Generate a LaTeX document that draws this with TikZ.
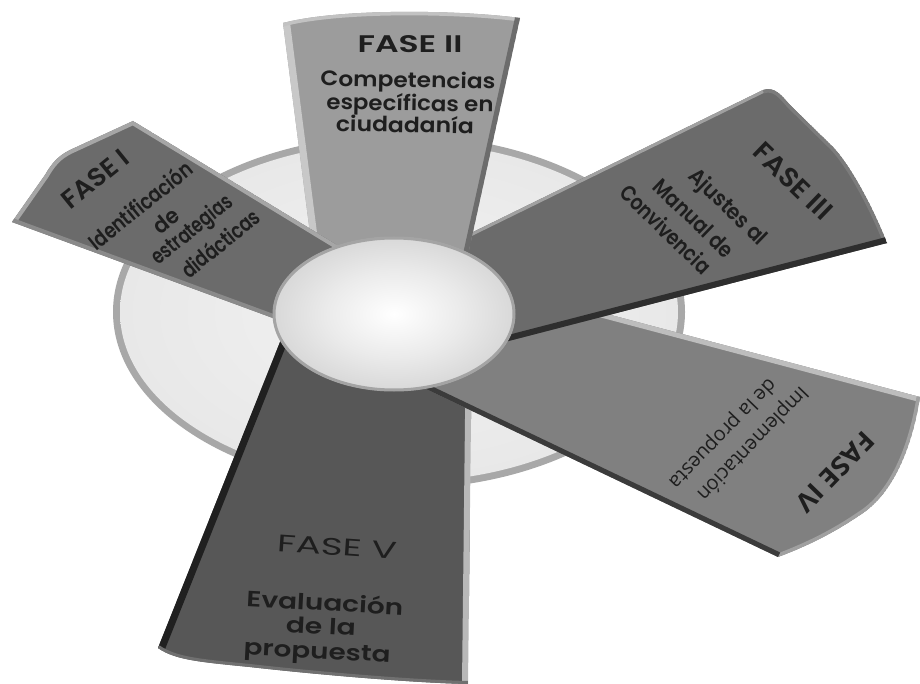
\documentclass[tikz,border=0pt]{standalone}
\usepackage{fontspec}
\setmainfont{Poppins}[BoldFont={Poppins SemiBold}]
\newfontfamily\ivfont{Open Sans}
\usepackage{graphicx}
\definecolor{txtc}{HTML}{1E1E1E}
\definecolor{discrim}{HTML}{A8A8A8}
\definecolor{cI}{HTML}{6B6B6B}
\definecolor{cIrim}{HTML}{A6A6A6}
\definecolor{cIbot}{HTML}{8A8A8A}
\definecolor{cII}{HTML}{9C9C9C}
\definecolor{cIIleft}{HTML}{C8C8C8}
\definecolor{cIItop}{HTML}{C2C2C2}
\definecolor{cIIright}{HTML}{6C6C6C}
\definecolor{cIII}{HTML}{6B6B6B}
\definecolor{cIIItop}{HTML}{A0A0A0}
\definecolor{cIIIout}{HTML}{7C7C7C}
\definecolor{cIIIbot}{HTML}{2E2E2E}
\definecolor{cIV}{HTML}{808080}
\definecolor{cIVtop}{HTML}{BDBDBD}
\definecolor{cIVout}{HTML}{A0A0A0}
\definecolor{cIVbot}{HTML}{3B3B3B}
\definecolor{cV}{HTML}{575757}
\definecolor{cVleft}{HTML}{202020}
\definecolor{cVright}{HTML}{B8B8B8}
\definecolor{cVbot}{HTML}{707070}
\definecolor{sphrim}{HTML}{A4A4A4}
\pgfdeclareradialshading{sph}{\pgfpoint{0bp}{0bp}}{color(0bp)=(white); color(14bp)=(white!92!black); color(50bp)=(white!68!black)}
\pgfdeclareradialshading{discface}{\pgfpoint{0bp}{0bp}}{color(0bp)=(white!95!black); color(50bp)=(white!87!black)}
% scale text horizontally to a width, at a given font size
\newcommand{\fitx}[3]{\resizebox{#1pt}{\height}{\fontsize{#2pt}{#2pt}\selectfont #3}}
\tikzset{
  lbl/.style={inner sep=0pt, text=txtc},
}
\def\pV{(290,317) -- (158,648) .. controls (175,660) and (200,662) .. (250,667) .. controls (330,676) and (420,683) .. (468,684) -- (472,330) -- cycle}
\def\pIV{(430,267) -- (920,397) .. controls (915,430) and (900,490) .. (860,515) .. controls (835,532) and (810,545) .. (778,557) -- (380,367) -- cycle}
\def\pIII{(420,258) -- (763,90) .. controls (775,86) and (782,96) .. (790,105) -- (833,147) .. controls (850,165) and (872,205) .. (887,243) -- (420,364) -- cycle}
\def\pII{(316,280) -- (283,23) .. controls (340,8) and (460,10) .. (520,18) -- (458,300) -- cycle}
\def\pI{(360,259) -- (133,121) -- (70,150) .. controls (58,156) and (52,163) .. (45,175) -- (12,222) -- (330,339) -- cycle}
\begin{document}
\begin{tikzpicture}[x=1pt,y=-1pt]
\useasboundingbox (0,0) rectangle (920,684);
\fill[white] (0,0) rectangle (920,684);
% disc
\fill[discrim] (399,312) ellipse [x radius=286, y radius=177];
\shade[shading=discface] (399,312) ellipse [x radius=279, y radius=170];
% blade V
\begin{scope}
  \clip \pV;
  \fill[cV] \pV;
  \draw[line width=14pt, cVleft] (290,317) -- (158,648);
  \draw[line width=12pt, cVright] (468,684) -- (472,330);
  \draw[line width=6pt, cVbot] (158,648) .. controls (175,660) and (200,662) .. (250,667) .. controls (330,676) and (420,683) .. (468,684);
\end{scope}
% blade IV
\begin{scope}
  \clip \pIV;
  \fill[cIV] \pIV;
  \draw[line width=10pt, cIVtop] (430,267) -- (920,397);
  \draw[line width=7pt, cIVout] (920,397) .. controls (915,430) and (900,490) .. (860,515) .. controls (835,532) and (810,545) .. (778,557);
  \draw[line width=10pt, cIVbot] (778,557) -- (380,367);
\end{scope}
% blade III
\begin{scope}
  \clip \pIII;
  \fill[cIII] \pIII;
  \draw[line width=6pt, cIIItop] (420,258) -- (763,90);
  \draw[line width=7pt, cIIIout] (763,90) .. controls (775,86) and (782,96) .. (790,105) -- (833,147) .. controls (850,165) and (872,205) .. (887,243);
  \draw[line width=12pt, cIIIbot] (887,243) -- (420,364);
\end{scope}
% blade II
\begin{scope}
  \clip \pII;
  \fill[cII] \pII;
  \draw[line width=14pt, cIIleft] (316,280) -- (283,23);
  \draw[line width=7pt, cIItop] (283,23) .. controls (340,8) and (460,10) .. (520,18);
  \draw[line width=10pt, cIIright] (520,18) -- (458,300);
\end{scope}
% blade I
\begin{scope}
  \clip \pI;
  \fill[cI] \pI;
  \draw[line width=8pt, cIrim] (360,259) -- (133,121) -- (70,150) .. controls (58,156) and (52,163) .. (45,175) -- (12,222);
  \draw[line width=8pt, cIbot] (12,222) -- (330,339);
\end{scope}
% hub
\shade[shading=sph] (394,314) ellipse [x radius=121, y radius=77];
\draw[line width=3pt, sphrim] (394,314) ellipse [x radius=120, y radius=76];
% texts I
\node[lbl, rotate=39] (f1) at (95,179) {\fitx{78}{26}{\bfseries FASE I}};
\node[lbl, rotate=39] (t1a) at (140,205) {\fitx{126}{22}{\bfseries Identificación}};
\node[lbl, rotate=39] (t1b) at (166,221) {\fitx{27}{22}{\bfseries de}};
\node[lbl, rotate=39] (t1c) at (193,231) {\fitx{97}{22}{\bfseries estrategias}};
\node[lbl, rotate=39] (t1d) at (220,243) {\fitx{94}{22}{\bfseries didácticas}};
% texts II
\node[lbl] (f2) at (410,44) {\fitx{105}{24}{\bfseries FASE II}};
\node[lbl, rotate=-1] (t2a) at (408,82) {\fitx{175}{21}{\bfseries Competencias}};
\node[lbl, rotate=-1] (t2b) at (410,105) {\fitx{167}{21}{\bfseries específicas en}};
\node[lbl, rotate=-1] (t2c) at (405,124) {\fitx{138}{21}{\bfseries ciudadanía}};
% texts III
\node[lbl, rotate=-44] (f3) at (793,181) {\fitx{98}{27}{\bfseries FASE III}};
\node[lbl, rotate=-44] (t3a) at (727,208) {\fitx{100}{22}{\bfseries Ajustes al}};
\node[lbl, rotate=-44] (t3b) at (694,218) {\fitx{102}{22}{\bfseries Manual de}};
\node[lbl, rotate=-44] (t3c) at (666,229) {\fitx{117}{22}{\bfseries Convivencia}};
% texts IV
\node[lbl, rotate=-134] (f4) at (835,472) {\fitx{100}{26}{\ivfont\bfseries FASE IV}};
\node[lbl, rotate=-134] (t4a) at (752,443) {\fitx{150}{20}{\ivfont Implementación}};
\node[lbl, rotate=-134] (t4b) at (722,433) {\fitx{145}{20}{\ivfont de la propuesta}};
% texts V
\node[lbl, rotate=-4] (f5) at (337,547) {\fitx{120}{24}{FASE V}};
\node[lbl, rotate=-3] (t5a) at (325,602) {\fitx{157}{22}{\bfseries Evaluación}};
\node[lbl, rotate=-3] (t5b) at (321,626) {\fitx{70}{22}{\bfseries de la}};
\node[lbl, rotate=-3] (t5c) at (317,654) {\fitx{147}{22}{\bfseries propuesta}};
\end{tikzpicture}
\end{document}
